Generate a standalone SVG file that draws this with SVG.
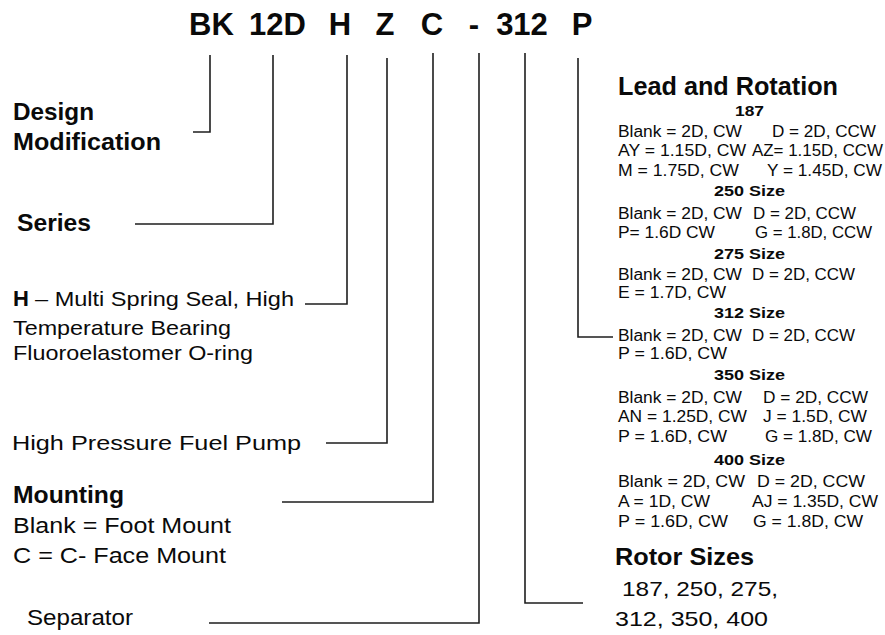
<svg xmlns="http://www.w3.org/2000/svg" width="885" height="635" viewBox="0 0 885 635">
<style>
text{font-family:"Liberation Sans",Arial,sans-serif;fill:#0a0a0a}
.b{font-weight:bold}
.t{font-weight:bold;font-size:31px;text-anchor:middle}
.l{font-size:21px}
.s{font-size:16px}
.h{font-weight:bold;font-size:14px}
.c{fill:none;stroke:#1e1e1e;stroke-width:1.6}
</style>
<rect width="885" height="635" fill="#fff"/>
<g id="code">
<text class="t" x="211.5" y="35">BK</text>
<text class="t" x="277.5" y="35">12D</text>
<text class="t" x="340" y="35">H</text>
<text class="t" x="385" y="35">Z</text>
<text class="t" x="432" y="35">C</text>
<text class="t" x="474" y="35">-</text>
<text class="t" x="522" y="35">312</text>
<text class="t" x="582" y="35">P</text>
</g>
<g id="connectors">
<path class="c" d="M210,55 V132 H193"/>
<path class="c" d="M273,55 V224 H135"/>
<path class="c" d="M347,55 V304 H305"/>
<path class="c" d="M387,58 V443 H326"/>
<path class="c" d="M433,53 V502 H282"/>
<path class="c" d="M479,53 V623 H209"/>
<path class="c" d="M525,53 V603 H583"/>
<path class="c" d="M578,58 V337 H613"/>
</g>
<g id="design-modification">
<text class="b" font-size="24" x="13" y="120" textLength="81" lengthAdjust="spacingAndGlyphs">Design</text>
<text class="b" font-size="24" x="13" y="150" textLength="148" lengthAdjust="spacingAndGlyphs">Modification</text>
</g>
<g id="series">
<text class="b" font-size="24" x="17" y="231" textLength="74" lengthAdjust="spacingAndGlyphs">Series</text>
</g>
<g id="h-option">
<text class="b" font-size="22" x="13" y="306">H</text>
<text class="l" font-size="20" x="35" y="306" textLength="259" lengthAdjust="spacingAndGlyphs">– Multi Spring Seal, High</text>
<text class="l" x="13" y="335" textLength="218" lengthAdjust="spacingAndGlyphs">Temperature Bearing</text>
<text class="l" x="13" y="360" textLength="240" lengthAdjust="spacingAndGlyphs">Fluoroelastomer O-ring</text>
</g>
<g id="pump-type">
<text class="l" x="12" y="450" textLength="289" lengthAdjust="spacingAndGlyphs">High Pressure Fuel Pump</text>
</g>
<g id="mounting">
<text class="b" font-size="23" x="13" y="503" textLength="111" lengthAdjust="spacingAndGlyphs">Mounting</text>
<text font-size="22" x="13" y="533" textLength="218" lengthAdjust="spacingAndGlyphs">Blank = Foot Mount</text>
<text font-size="22" x="13" y="563" textLength="213" lengthAdjust="spacingAndGlyphs">C = C- Face Mount</text>
</g>
<g id="separator">
<text font-size="22" x="27" y="625" textLength="106" lengthAdjust="spacingAndGlyphs">Separator</text>
</g>
<g id="lead-rotation">
<text class="b" font-size="25" x="618" y="95" textLength="220" lengthAdjust="spacingAndGlyphs">Lead and Rotation</text>
<text class="h" x="735" y="116" textLength="29" lengthAdjust="spacingAndGlyphs">187</text>
<text class="s" x="618" y="137" textLength="124" lengthAdjust="spacingAndGlyphs">Blank = 2D, CW</text>
<text class="s" x="772" y="137" textLength="104" lengthAdjust="spacingAndGlyphs">D = 2D, CCW</text>
<text class="s" x="618" y="156" textLength="128" lengthAdjust="spacingAndGlyphs">AY = 1.15D, CW</text>
<text class="s" x="752" y="156" textLength="131" lengthAdjust="spacingAndGlyphs">AZ= 1.15D, CCW</text>
<text class="s" x="618" y="176" textLength="121" lengthAdjust="spacingAndGlyphs">M = 1.75D, CW</text>
<text class="s" x="767" y="176" textLength="115" lengthAdjust="spacingAndGlyphs">Y = 1.45D, CW</text>
<text class="h" x="714" y="196" textLength="71" lengthAdjust="spacingAndGlyphs">250 Size</text>
<text class="s" x="618" y="219" textLength="124" lengthAdjust="spacingAndGlyphs">Blank = 2D, CW</text>
<text class="s" x="753" y="219" textLength="103" lengthAdjust="spacingAndGlyphs">D = 2D, CCW</text>
<text class="s" x="618" y="238" textLength="97" lengthAdjust="spacingAndGlyphs">P= 1.6D CW</text>
<text class="s" x="755" y="238" textLength="117" lengthAdjust="spacingAndGlyphs">G = 1.8D, CCW</text>
<text class="h" x="714" y="259" textLength="71" lengthAdjust="spacingAndGlyphs">275 Size</text>
<text class="s" x="618" y="280" textLength="124" lengthAdjust="spacingAndGlyphs">Blank = 2D, CW</text>
<text class="s" x="752" y="280" textLength="103" lengthAdjust="spacingAndGlyphs">D = 2D, CCW</text>
<text class="s" x="618" y="298" textLength="108" lengthAdjust="spacingAndGlyphs">E = 1.7D, CW</text>
<text class="h" x="714" y="318" textLength="71" lengthAdjust="spacingAndGlyphs">312 Size</text>
<text class="s" x="618" y="341" textLength="124" lengthAdjust="spacingAndGlyphs">Blank = 2D, CW</text>
<text class="s" x="752" y="341" textLength="103" lengthAdjust="spacingAndGlyphs">D = 2D, CCW</text>
<text class="s" x="618" y="359" textLength="109" lengthAdjust="spacingAndGlyphs">P = 1.6D, CW</text>
<text class="h" x="714" y="380" textLength="71" lengthAdjust="spacingAndGlyphs">350 Size</text>
<text class="s" x="618" y="403" textLength="124" lengthAdjust="spacingAndGlyphs">Blank = 2D, CW</text>
<text class="s" x="763" y="403" textLength="105" lengthAdjust="spacingAndGlyphs">D = 2D, CCW</text>
<text class="s" x="618" y="422" textLength="129" lengthAdjust="spacingAndGlyphs">AN = 1.25D, CW</text>
<text class="s" x="763" y="422" textLength="104" lengthAdjust="spacingAndGlyphs">J = 1.5D, CW</text>
<text class="s" x="618" y="442" textLength="109" lengthAdjust="spacingAndGlyphs">P = 1.6D, CW</text>
<text class="s" x="765" y="442" textLength="107" lengthAdjust="spacingAndGlyphs">G = 1.8D, CW</text>
<text class="h" x="714" y="465" textLength="71" lengthAdjust="spacingAndGlyphs">400 Size</text>
<text class="s" x="618" y="487" textLength="127" lengthAdjust="spacingAndGlyphs">Blank = 2D, CW</text>
<text class="s" x="757" y="487" textLength="108" lengthAdjust="spacingAndGlyphs">D = 2D, CCW</text>
<text class="s" x="618" y="507" textLength="92" lengthAdjust="spacingAndGlyphs">A = 1D, CW</text>
<text class="s" x="752" y="507" textLength="126" lengthAdjust="spacingAndGlyphs">AJ = 1.35D, CW</text>
<text class="s" x="618" y="527" textLength="110" lengthAdjust="spacingAndGlyphs">P = 1.6D, CW</text>
<text class="s" x="753" y="527" textLength="110" lengthAdjust="spacingAndGlyphs">G = 1.8D, CW</text>
</g>
<g id="rotor-sizes">
<text class="b" font-size="24" x="615" y="565" textLength="139" lengthAdjust="spacingAndGlyphs">Rotor Sizes</text>
<text class="l" x="622" y="596" textLength="156" lengthAdjust="spacingAndGlyphs">187, 250, 275,</text>
<text class="l" x="615" y="626" textLength="153" lengthAdjust="spacingAndGlyphs">312, 350, 400</text>
</g>
</svg>
